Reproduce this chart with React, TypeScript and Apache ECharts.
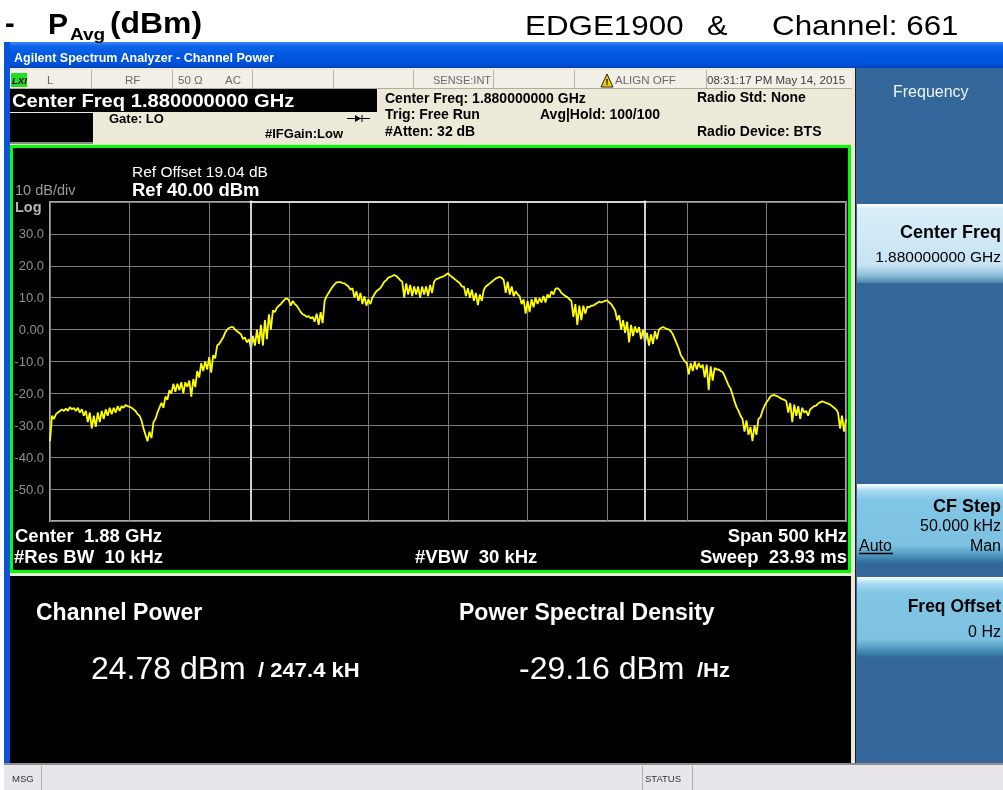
import React, { useEffect, useRef } from "react";
import * as echarts from "echarts";

// ---- Data ----
const sweepStartKhz = -250;
const sweepStepKhz = 1.25;
const spanMinKhz = -250;
const spanMaxKhz = 250;
const freqGridKhz = 50;
const refLevelDbm = 40;
const bottomLevelDbm = -60;
const dbPerDiv = 10;
const channelBwKhz = 247.4;

const traceDbm = [
  -35, -27, -28, -26.5, -26, -25.5, -25, -25.5, -24.8, -25.5,
  -24.3, -25, -24.6, -25.5, -24.5, -26, -25, -27, -25.5, -29,
  -26, -31, -27, -30.5, -26, -29, -25.5, -28, -25, -27,
  -24.5, -26.5, -24.5, -26, -24, -25.5, -24, -24.5, -23.6, -24,
  -24.2, -24.5, -25, -25.5, -26.5, -27, -28.5, -31, -33, -35,
  -32, -34, -29, -28, -26, -24.5, -23, -24.5, -21, -22,
  -19, -20, -17, -19.5, -17, -19, -16.5, -20, -16.5, -18,
  -16, -21, -15.5, -18, -13, -15, -10.5, -13, -10, -12.5,
  -8.6, -13.5, -8, -9, -5, -4.5, -3.5, -2.5, -1, 0,
  0.5, 0.8, 0.8, 0, -0.5, -1, -1.5, -3, -2.5, -4,
  -3, -6, -2, -5, 0, -4.5, 1.5, -5, 3, -3,
  4.8, 0, 6, 5.5, 6.8, 7.5, 8, 8.8, 9.5, 9.8,
  9.3, 7.5, 9, 8, 7.5, 6.5, 5.5, 4.8, 4.5, 4,
  4.2, 3.5, 4, 2.5, 5, 1.5, 5.5, 2, 9, 10.5,
  11.5, 12.5, 13.4, 14.2, 14.8, 14.9, 14.9, 14.6, 14.5, 14,
  13.5, 12.5, 13, 10, 12, 9, 11.5, 8, 10.5, 7.5,
  9.5, 8, 10, 11, 12, 12.5, 13, 14, 15, 15.5,
  16.3, 16.5, 16.8, 17.1, 16.8, 16.2, 15.5, 15, 10, 14.5,
  11, 14, 10.5, 13.5, 11, 13.5, 10, 13.5, 11, 13.5,
  10.5, 14, 11.5, 15, 15.8, 16, 16.3, 16.5, 16.8, 17.2,
  17.7, 17, 16.5, 16, 15.5, 15, 14.5, 13.5, 13.5, 10.5,
  13, 10, 12.5, 9, 11.5, 7.7, 11, 9, 12.5, 13.5,
  14, 14.5, 15, 15.5, 16, 16.3, 16.5, 16.2, 15.5, 11.5,
  15, 11, 13.5, 10.5, 12, 11, 10.5, 8, 9.5, 5,
  9, 5.5, 9.5, 7, 10, 8, 9.8, 8.5, 10.5, 8.5,
  11, 10, 12, 11, 12.8, 13, 12.5, 11.5, 11, 10.5,
  10.2, 9.5, 9, 4, 8, 1.5, 7.5, 3, 7.5, 5,
  7.2, 7, 7.5, 7.5, 8, 8.3, 8.8, 8.5, 8.8, 9,
  9.2, 8.5, 8, 7, 6, 3, 4.5, 0, 3, -1,
  2.5, -4, 1.5, -2, 1, -1, 0.8, -3, 0, -4,
  -1, -5, -1.5, -4.5, -0.5, -3, 0, 0.5, 0.8, 0.5,
  0.2, 0, -0.5, -1.5, -3, -4.5, -6, -8, -9, -10,
  -10.5, -14, -10.5, -13, -10, -12.5, -10.5, -12, -11, -15,
  -11, -19, -11.5, -16, -12, -12.5, -12.5, -13, -13.3, -14.5,
  -16, -17.5, -18.5, -20.5, -22.5, -24.3, -25.5, -27, -28, -32,
  -28.5, -33, -30.5, -35, -30, -33, -28, -27.5, -25.5, -24,
  -22.8, -22, -21, -20.6, -20.5, -20.8, -21, -21.5, -21.8, -22,
  -22.5, -26, -23, -29, -23.5, -27, -24, -28, -24.5, -26,
  -25.5, -27, -25, -24.5, -24, -23.8, -23.2, -22.8, -22.5, -22.7,
  -23, -23.2, -23.5, -24, -24.5, -25, -26, -31, -27, -32,
  -28,
];

const headingLeft = "P";
const headingSub = "Avg";
const headingUnit = "(dBm)";
const bandLabel = "EDGE1900";
const channelLabel = "Channel: 661";
const channelPower = "24.78 dBm";
const channelPowerBw = "/ 247.4 kH";
const psd = "-29.16 dBm";
const psdUnit = "/Hz";

const F = '"Liberation Sans", Arial, Helvetica, sans-serif';

function T(x: number, y: number, text: string, size: number, o: any = {}) {
  const font = `${o.italic ? "italic " : ""}${o.bold ? "bold " : ""}${size}px ${F}`;
  return {
    type: "text",
    x,
    y,
    scaleX: o.sx || 1,
    z: 50,
    silent: true,
    style: {
      text,
      fill: o.color || "#000",
      font,
      textAlign: o.align || "left",
      textVerticalAlign: "middle",
    },
  };
}
function R(x: number, y: number, w: number, h: number, fill: any, o: any = {}) {
  return {
    type: "rect",
    z: o.z ?? -5,
    silent: true,
    shape: { x, y, width: w, height: h },
    style: { fill, stroke: o.stroke || null, lineWidth: o.lw ?? 0 },
  };
}
function L(x1: number, y1: number, x2: number, y2: number, color: string, w = 1, z = 40) {
  return { type: "line", z, silent: true, shape: { x1, y1, x2, y2 }, style: { stroke: color, lineWidth: w } };
}

function buildGraphics() {
  const G = echarts.graphic;
  const titleGrad = new G.LinearGradient(0, 0, 0, 1, [
    { offset: 0, color: "#3d8ff7" },
    { offset: 0.15, color: "#0f66e8" },
    { offset: 0.5, color: "#0058e2" },
    { offset: 0.85, color: "#0050d8" },
    { offset: 1, color: "#0043bd" },
  ]);
  const selBtn = new G.LinearGradient(0, 0, 0, 1, [
    { offset: 0, color: "#ffffff" },
    { offset: 0.06, color: "#d9eefa" },
    { offset: 0.78, color: "#c6e3f4" },
    { offset: 0.9, color: "#8fbfd9" },
    { offset: 1, color: "#4b87aa" },
  ]);
  const btn = new G.LinearGradient(0, 0, 0, 1, [
    { offset: 0, color: "#ffffff" },
    { offset: 0.08, color: "#aadbf1" },
    { offset: 0.2, color: "#82c6e6" },
    { offset: 0.78, color: "#7cc1e1" },
    { offset: 0.9, color: "#4f97bf" },
    { offset: 1, color: "#2f6e98" },
  ]);
  const statusGray = "#6a6a6a";
  const els: any[] = [
    // heading
    T(5, 23, "-", 29, { bold: true }),
    T(48, 23, headingLeft, 30, { bold: true }),
    T(70, 34, headingSub, 17, { bold: true, sx: 1.12 }),
    T(110, 23, headingUnit, 29, { bold: true, sx: 1.1 }),
    T(525, 25, bandLabel, 28, { sx: 1.12 }),
    T(707, 25, "&", 28, { sx: 1.1 }),
    T(772, 25, channelLabel, 28, { sx: 1.12 }),

    // window chrome
    R(4, 42, 999, 26, titleGrad),
    R(4, 42, 6, 748, "#0a52d6"),
    T(14, 58, "Agilent Spectrum Analyzer - Channel Power", 12.5, { bold: true, color: "#ffffff" }),
    R(10, 68, 846, 697, "#ece9d8"),
    R(10, 70, 842, 18, "#f1efe6"),
    L(10, 88.5, 852, 88.5, "#b0ac9c", 1),
    L(91.5, 70, 91.5, 88, "#b8b4a8"),
    L(172.5, 70, 172.5, 88, "#b8b4a8"),
    L(252.5, 70, 252.5, 88, "#b8b4a8"),
    L(333.5, 70, 333.5, 88, "#b8b4a8"),
    L(413.5, 70, 413.5, 88, "#b8b4a8"),
    L(493.5, 70, 493.5, 88, "#b8b4a8"),
    L(574.5, 70, 574.5, 88, "#b8b4a8"),
    L(706.5, 70, 706.5, 88, "#b8b4a8"),
    R(11, 73, 16, 14, "#22dd22", { z: 10 }),
    T(12, 80, "LXI", 9.5, { bold: true, italic: true, color: "#000" }),
    T(47, 80, "L", 11.5, { color: statusGray }),
    T(125, 80, "RF", 11.5, { color: statusGray }),
    T(178, 80, "50 \u03A9", 11.5, { color: statusGray }),
    T(225, 80, "AC", 11.5, { color: statusGray }),
    T(433, 80, "SENSE:INT", 11, { color: statusGray }),
    {
      type: "polygon",
      z: 45,
      silent: true,
      shape: { points: [[601, 87], [607, 74], [613, 87]] },
      style: { fill: "#f2d000", stroke: "#222", lineWidth: 1 },
    },
    T(607, 82, "!", 9, { bold: true, align: "center" }),
    T(615, 80, "ALIGN OFF", 11.5, { color: statusGray }),
    T(707, 80, "08:31:17 PM May 14, 2015", 11.5, { color: "#3c3c3c" }),

    R(10, 89, 367, 23, "#000000", { z: 10 }),
    T(12, 100.5, "Center Freq 1.880000000 GHz", 18, { bold: true, color: "#ffffff", sx: 1.12 }),
    R(10, 113, 83, 29, "#000000", { z: 10 }),
    L(10, 143, 93, 143, "#8a8a8a", 2),
    T(109, 118, "Gate: LO", 13, { bold: true }),
    T(265, 133, "#IFGain:Low", 13, { bold: true }),
    L(347, 118.5, 370, 118.5, "#000", 1),
    {
      type: "polygon",
      z: 45,
      silent: true,
      shape: { points: [[355, 115], [361, 118.5], [355, 122]] },
      style: { fill: "#000" },
    },
    L(362, 115, 362, 122, "#000", 1),
    T(385, 98, "Center Freq: 1.880000000 GHz", 14, { bold: true }),
    T(385, 114, "Trig: Free Run", 14, { bold: true }),
    T(540, 114, "Avg|Hold: 100/100", 14, { bold: true }),
    T(385, 131, "#Atten: 32 dB", 14, { bold: true }),
    T(697, 97, "Radio Std: None", 14, { bold: true }),
    T(697, 131, "Radio Device: BTS", 14, { bold: true }),

    // measurement frame
    R(11.5, 146.5, 838, 425, "#000000", { stroke: "#00ff00", lw: 3 }),
    T(15, 190, "10 dB/div", 14.5, { color: "#9a9a9a" }),
    T(15, 207, "Log", 14.5, { bold: true, color: "#b4b4b4" }),
    T(132, 171, "Ref Offset 19.04 dB", 15.5, { color: "#ffffff" }),
    T(132, 189, "Ref 40.00 dBm", 18.5, { bold: true, color: "#ffffff" }),
    T(15, 535, "Center  1.88 GHz", 18.5, { bold: true, color: "#ffffff" }),
    T(14, 556, "#Res BW  10 kHz", 18.5, { bold: true, color: "#ffffff" }),
    T(415, 556, "#VBW  30 kHz", 18.5, { bold: true, color: "#ffffff" }),
    T(847, 535, "Span 500 kHz", 18.5, { bold: true, color: "#ffffff", align: "right" }),
    T(847, 556, "Sweep  23.93 ms", 18.5, { bold: true, color: "#ffffff", align: "right" }),

    // results
    R(10, 576, 841, 187, "#000000"),
    T(36, 612, "Channel Power", 23, { bold: true, color: "#ffffff" }),
    T(91, 668, channelPower, 32, { color: "#ffffff" }),
    T(258, 670, channelPowerBw, 21, { bold: true, color: "#ffffff", sx: 1.05 }),
    T(459, 612, "Power Spectral Density", 23, { bold: true, color: "#ffffff" }),
    T(519, 668, psd, 32, { color: "#ffffff" }),
    T(697, 670, psdUnit, 21, { bold: true, color: "#ffffff", sx: 1.05 }),

    // right soft-key panel
    R(856, 68, 147, 695, "#336699"),
    L(855.5, 68, 855.5, 763, "#1e1e1e", 1),
    T(893, 91, "Frequency", 16, { color: "#eef4fb" }),
    R(857, 204, 146, 79, selBtn, { z: 10 }),
    T(1001, 232, "Center Freq", 18, { bold: true, align: "right" }),
    T(1001, 256, "1.880000000 GHz", 15.5, { align: "right" }),
    R(857, 484, 146, 79, btn, { z: 10 }),
    T(1001, 506, "CF Step", 18, { bold: true, align: "right" }),
    T(1001, 525, "50.000 kHz", 16, { align: "right" }),
    T(859, 545, "Auto", 16),
    L(859, 553.5, 893, 553.5, "#000", 1.5, 55),
    T(1001, 545, "Man", 16, { align: "right" }),
    R(857, 577, 146, 80, btn, { z: 10 }),
    T(1001, 606, "Freq Offset", 17.5, { bold: true, align: "right" }),
    T(1001, 631, "0 Hz", 16, { align: "right" }),

    // bottom status bar
    R(4, 763, 999, 27, "#e8e6ea", { z: 10 }),
    L(4, 764, 1003, 764, "#8e8e8e", 2, 40),
    L(41.5, 766, 41.5, 790, "#b0b0b0", 1, 40),
    L(642.5, 766, 642.5, 790, "#b0b0b0", 1, 40),
    L(692.5, 766, 692.5, 790, "#b0b0b0", 1, 40),
    T(12, 778, "MSG", 9.5, { color: "#333" }),
    T(645, 778, "STATUS", 9.5, { color: "#333" }),
  ];
  return els;
}

export default function App() {
  const ref = useRef<HTMLDivElement>(null);
  useEffect(() => {
    if (!ref.current) return;
    const chart = echarts.init(ref.current, undefined, { renderer: "svg" });
    const trace = traceDbm.map((v, i) => [sweepStartKhz + i * sweepStepKhz, v]);
    const half = channelBwKhz / 2;
    chart.setOption({
      animation: false,
      backgroundColor: "transparent",
      grid: {
        left: 50,
        top: 202,
        width: 796,
        height: 319,
        show: true,
        backgroundColor: "#000",
        borderColor: "#a8a8a8",
        borderWidth: 2,
      },
      xAxis: {
        type: "value",
        min: spanMinKhz,
        max: spanMaxKhz,
        interval: freqGridKhz,
        axisLine: { show: false },
        axisTick: { show: false },
        axisLabel: { show: false },
        splitLine: { show: true, lineStyle: { color: "#7c7c7c", width: 1 } },
      },
      yAxis: {
        type: "value",
        min: bottomLevelDbm,
        max: refLevelDbm,
        interval: dbPerDiv,
        axisLine: { show: false },
        axisTick: { show: false },
        axisLabel: {
          color: "#909090",
          fontSize: 13,
          fontFamily: F,
          margin: 6,
          formatter: (v: number) =>
            v === refLevelDbm || v === bottomLevelDbm ? "" : v === 0 ? "0.00" : v.toFixed(1),
        },
        splitLine: { show: true, lineStyle: { color: "#7c7c7c", width: 1 } },
      },
      graphic: { elements: buildGraphics() },
      series: [
        {
          type: "line",
          z: 1,
          data: [
            [-half, refLevelDbm],
            [half, refLevelDbm],
          ],
          showSymbol: true,
          symbol: "circle",
          symbolSize: 3,
          itemStyle: { color: "#ffffff" },
          lineStyle: { color: "#d4d4d4", width: 2 },
          silent: true,
          markLine: {
            silent: true,
            symbol: "none",
            label: { show: false },
            lineStyle: { color: "#d0d0d0", width: 2, type: "solid" },
            data: [{ xAxis: -half }, { xAxis: half }],
          },
        },
        {
          type: "line",
          z: 3,
          data: trace,
          showSymbol: false,
          silent: true,
          lineStyle: { color: "#ffff00", width: 1.8 },
        },
      ],
    });
    return () => chart.dispose();
  }, []);
  return <div ref={ref} style={{ position: "fixed", left: 0, top: 0, width: 1003, height: 790 }} />;
}
